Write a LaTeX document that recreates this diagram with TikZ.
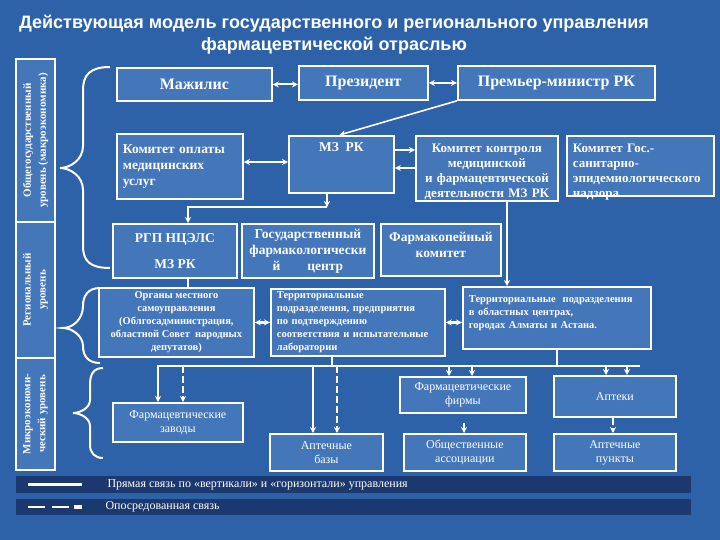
\documentclass[tikz,border=0pt]{standalone}
\usepackage{fontspec}
\setmainfont{Liberation Serif}
\setsansfont{Liberation Sans}
\usetikzlibrary{arrows.meta}

\definecolor{bgblue}{RGB}{46,98,168}
\definecolor{boxblue}{RGB}{68,118,186}
\definecolor{barblue}{RGB}{27,57,110}

\begin{document}
\begin{tikzpicture}[x=1pt, y=-1pt,
  box/.style={draw=white, line width=1.8pt, fill=boxblue, text=white, anchor=north west, align=center, inner sep=3pt},
  lvl/.style={draw=white, line width=1.8pt, fill=boxblue, text=white, align=center, rotate=90, inner sep=2pt, font=\fontsize{11}{15}\selectfont\bfseries},
  f14/.style={font=\fontsize{16}{18}\selectfont\bfseries},
  f13/.style={font=\fontsize{13.5}{16}\selectfont\bfseries},
  f12/.style={font=\fontsize{13}{15}\selectfont\bfseries},
  f10b/.style={font=\fontsize{10.5}{13}\selectfont\bfseries},
  f10/.style={font=\fontsize{12}{14}\selectfont},
  wire/.style={draw=white, line width=2.2pt},
  link/.style={wire, -{Stealth[length=6pt, width=6pt]}},
  both/.style={wire, {Stealth[length=6pt, width=6pt]}-{Stealth[length=6pt, width=6pt]}},
  dlink/.style={link, dash pattern=on 7pt off 3pt},
  brace/.style={draw=white, line width=2pt}]

\useasboundingbox (0,0) rectangle (720,540);
\fill[bgblue] (0,0) rectangle (720,540);

% title
\node[text=white, align=center, font=\sffamily\bfseries\fontsize{18}{22}\selectfont] (title) at (334,35)
  {Действующая модель государственного и регионального управления\\фармацевтической отраслью};

% levels
\node[lvl, minimum width=163, minimum height=39] (lvl1) at (35.5,140.5) {Общегосударственный\\уровень (макроэкономика)};
\node[lvl, minimum width=136, minimum height=39] (lvl2) at (35.5,290) {Региональный\\уровень};
\node[lvl, minimum width=112, minimum height=39] (lvl3) at (35.5,414) {Микроэкономи-\\ческий уровень};

\draw[brace] (110,67) .. controls (90,67) and (83,75) .. (83,90) -- (83,146) .. controls (83,160) and (70,168) .. (60,168)
  .. controls (70,168) and (83,176) .. (83,190) -- (83,246) .. controls (83,261) and (90,268) .. (110,268);
\draw[brace] (100,288) .. controls (88,288) and (83,296) .. (83,306) .. controls (83,320) and (72,328) .. (63,328)
  .. controls (72,328) and (83,336) .. (83,346) .. controls (83,356) and (88,363) .. (100,363);
\draw[brace] (103,368) .. controls (93,368) and (90,375) .. (90,385) -- (90,400) .. controls (90,408) and (80,413) .. (73,413)
  .. controls (80,413) and (90,418) .. (90,426) -- (90,445) .. controls (90,453) and (95,458) .. (103,458);

% upper level
\node[box, f14, minimum width=155, minimum height=33] (majilis) at (116,67) {Мажилис};
\node[box, f14, minimum width=129, minimum height=34] (prezident) at (298,65) {Президент};
\node[box, f14, minimum width=197, minimum height=34] (premier) at (457,65) {Премьер-министр РК};
\node[box, f13, align=left, inner xsep=6pt, text width=114, minimum height=65] (oplata) at (116,133) {Комитет оплаты\\медицинских\\услуг};
\node[box, f13, minimum width=105, text height=13, text depth=38] (mz) at (288,135) {МЗ\ \ РК};
\node[box, f12, text width=136, text height=14, text depth=45] (kontrol) at (415,135)
  {Комитет контроля\\медицинской\\и фармацевтической\\деятельности МЗ РК};
\node[box, f12, align=left, inner xsep=6pt, text width=135, text height=14, text depth=40] (sanepid) at (566,135)
  {Комитет Гос.-\\санитарно-\\эпидемиологического\\надзора};
\node[box, f13, minimum width=124, minimum height=54] (ncels) at (112,223) {РГП НЦЭЛС\\[10pt]МЗ РК};
\node[box, f13, minimum width=132, minimum height=54] (farmcentr) at (241,223) {Государственный\\фармакологически\\й\quad\quad центр};
\node[box, f13, text width=114, text height=15, text depth=31] (farmakop) at (380,223) {Фармакопейный\\комитет};

% regional level
\node[box, f10b, minimum width=155, minimum height=69] (organy) at (98,287)
  {Органы местного\\самоуправления\\(Облгосадминистрация,\\областной Совет\ \ народных\\депутатов)};
\node[box, f10b, align=left, inner xsep=6pt, text width=162, minimum height=66] (terrpred) at (270,288)
  {Территориальные\\подразделения, предприятия\\по подтверждению\\соответствия и испытательные\\лаборатории};
\node[box, f10b, align=left, inner xsep=6pt, text width=176, text height=13, text depth=43] (terrobl) at (462,286)
  {Территориальные\ \ подразделения\\в областных центрах,\\городах Алматы и Астана.};

% micro level
\node[box, f10, minimum width=130, minimum height=39] (zavody) at (112,402) {Фармацевтические\\заводы};
\node[box, f10, minimum width=113, minimum height=37] (bazy) at (269,433) {Аптечные\\базы};
\node[box, f10, minimum width=126, minimum height=36] (firmy) at (399,376) {Фармацевтические\\фирмы};
\node[box, f10, minimum width=122, minimum height=37] (assoc) at (403,433) {Общественные\\ассоциации};
\node[box, f10, minimum width=122, minimum height=41] (apteki) at (553,375) {Аптеки};
\node[box, f10, minimum width=122, minimum height=37] (punkty) at (553,433) {Аптечные\\пункты};

% connections
\draw[both] (majilis.east) -- (prezident.west |- majilis.east);
\draw[both] (prezident.east) -- (premier.west);
\draw[link, line width=1.6pt] (premier.south west) -- ([xshift=-2pt]mz.north);
\draw[both] (oplata.east |- 0,162) -- (mz.west |- 0,162);
\draw[link] (mz.east |- 0,150) -- (kontrol.west |- 0,150);
\draw[link] (kontrol.west |- 0,168) -- (mz.east |- 0,168);
\coordinate (mzfork) at (327,207);
\draw[link] (mz.south -| mzfork) -- (mzfork);
\draw[link] (mzfork) -| (ncels.north -| 188,0);
\draw[link] (kontrol.south -| 507,0) -- (terrobl.north -| 507,0);
\draw[wire] (ncels.south -| 188,0) -- (organy.north -| 188,0);
\draw[both] (organy.east) -- (terrpred.west |- organy.east);
\draw[both] (terrpred.east) -- (terrobl.west |- terrpred.east);

\coordinate (busL) at (157,366);
\coordinate (busR) at (640,366);
\draw[wire] (busL) -- (busR);
\draw[wire] (terrpred.south -| 332,0) -- (busL -| 332,0);
\draw[wire] (terrobl.south) -- (terrobl.south |- busL);
\foreach \tgt/\xs/\xd in {zavody/158/183, bazy/313/337, firmy/449/472, apteki/606/627} {
  \draw[link] (busL -| \xs,0) -- (\tgt.north -| \xs,0);
  \draw[dlink] (busL -| \xd,0) -- (\tgt.north -| \xd,0);
}
\coordinate (associn) at (464,423);
\draw[link] (associn) -- (associn |- assoc.north);
\draw[dlink] (apteki.south -| 613,0) -- (punkty.north -| 613,0);

% legend
\fill[barblue] (16,476) rectangle (691,493);
\fill[barblue] (16,499) rectangle (691,515);
\coordinate (solidA) at (28,484.5);
\coordinate (solidB) at (82,484.5);
\coordinate (dashA) at (28,507);
\coordinate (dashB) at (82,507);
\draw[wire] (solidA) -- (solidB);
\draw[draw=white, line width=3.5pt] ([xshift=-11pt]solidB) -- (solidB);
\draw[wire, dash pattern=on 17pt off 7pt] (dashA) -- ([xshift=-10pt]dashB);
\draw[draw=white, line width=3.5pt] ([xshift=-8pt]dashB) -- (dashB);
\node[anchor=west, text=white, font=\fontsize{12}{14}\selectfont] (legdirect) at (104,484.5)
  {Прямая связь по «вертикали» и «горизонтали» управления};
\node[anchor=west, text=white, font=\fontsize{12}{14}\selectfont] (legindirect) at (102,507) {Опосредованная связь};
\end{tikzpicture}
\end{document}
